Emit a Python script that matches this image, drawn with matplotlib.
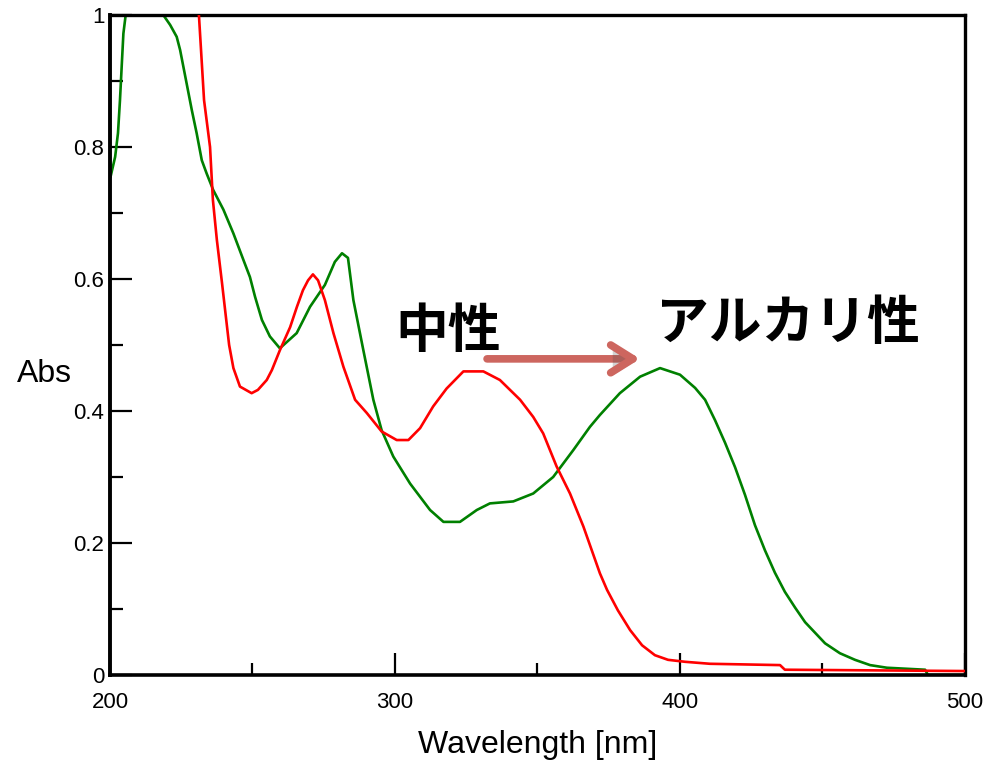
import matplotlib
matplotlib.use("Agg")
import matplotlib.pyplot as plt
from matplotlib import font_manager
import matplotlib.patheffects as pe

# ---- data ----
neutral_wl = [230.5, 231.2, 233.0, 235.1, 236.1, 237.5, 239.3, 240.6, 241.8, 243.3, 245.6, 249.7,
              251.9, 255.0, 256.8, 259.6, 263.2, 265.6, 267.7, 269.5, 271.2, 273.0, 275.4,
              278.4, 281.9, 286.0, 290.1, 295.3, 300.6, 304.7, 308.8, 313.4, 318.1, 324.0,
              331.0, 336.8, 343.9, 348.5, 352.0, 356.7, 361.4, 366.1, 371.9, 374.4, 378.2,
              382.5, 386.7, 391.2, 395.8, 401.8, 410.5, 435.1, 436.8, 500.0]
neutral_abs = [1.05, 1.0, 0.871, 0.800, 0.720, 0.659, 0.594, 0.545, 0.500, 0.465, 0.437, 0.427,
               0.432, 0.447, 0.462, 0.492, 0.527, 0.558, 0.583, 0.598, 0.607, 0.598, 0.568,
               0.518, 0.467, 0.417, 0.397, 0.369, 0.356, 0.356, 0.374, 0.407, 0.434, 0.460,
               0.460, 0.447, 0.417, 0.391, 0.366, 0.316, 0.275, 0.225, 0.154, 0.129, 0.098,
               0.068, 0.045, 0.030, 0.023, 0.020, 0.017, 0.015, 0.008, 0.006]

alkaline_wl = [200.2, 201.8, 202.8, 203.5, 204.1, 204.7, 205.5, 207.0, 212.3, 217.5, 218.7,
               221.1, 223.4, 224.6, 226.9, 228.7, 230.4, 232.2, 233.9, 236.2, 239.8, 243.3,
               246.8, 249.1, 250.9, 253.3, 256.1, 259.6, 265.5, 270.2, 275.4, 278.9, 281.4,
               283.5, 285.4, 288.9, 292.4, 295.3, 299.4, 305.3, 312.3, 317.0, 322.8, 328.7,
               333.3, 341.5, 348.5, 355.5, 362.6, 368.4, 371.9, 378.9, 386.0, 393.0, 400.0,
               405.3, 408.8, 412.3, 415.8, 419.3, 422.8, 426.3, 429.8, 433.3, 436.8, 440.4,
               443.9, 447.4, 450.9, 456.1, 461.4, 466.7, 472.6, 486.0, 487.0, 500.0]
alkaline_abs = [0.755, 0.785, 0.821, 0.871, 0.922, 0.972, 1.0, 1.04, 1.06, 1.02, 1.0,
                0.985, 0.967, 0.947, 0.896, 0.856, 0.821, 0.780, 0.760, 0.735, 0.705, 0.669,
                0.629, 0.603, 0.573, 0.538, 0.513, 0.495, 0.518, 0.558, 0.591, 0.626, 0.639,
                0.632, 0.568, 0.492, 0.417, 0.371, 0.331, 0.290, 0.250, 0.232, 0.232, 0.250,
                0.260, 0.263, 0.275, 0.300, 0.341, 0.376, 0.394, 0.427, 0.452, 0.465, 0.455,
                0.435, 0.417, 0.386, 0.352, 0.315, 0.273, 0.227, 0.189, 0.155, 0.126, 0.102,
                0.080, 0.064, 0.048, 0.033, 0.023, 0.015, 0.011, 0.008, 0.0, 0.0]

x_ticks = [200, 300, 400, 500]
x_ticklabels = ["200", "300", "400", "500"]
y_ticks = [0, 0.2, 0.4, 0.6, 0.8, 1.0]
y_ticklabels = ["0", "0.2", "0.4", "0.6", "0.8", "1"]
label_neutral = "中性"
label_alkaline = "アルカリ性"

# ---- fonts ----
avail = {f.name for f in font_manager.fontManager.ttflist}
has_narrow = "Liberation Sans Narrow" in avail
tick_family = ["Liberation Sans Narrow"] if has_narrow else ["Liberation Sans"]
tick_size = 18 if has_narrow else 16
cjk = ["Noto Sans CJK JP", "DejaVu Sans"]

fig = plt.figure(figsize=(9.9, 7.67), dpi=100)
ax = fig.add_axes([110 / 990, 1 - 675 / 767, 855 / 990, 660 / 767])

ax.plot(neutral_wl, neutral_abs, color="#ff0000", lw=1.9, zorder=3)
ax.plot(alkaline_wl, alkaline_abs, color="#008000", lw=1.9, zorder=2)

ax.set_xlim(200, 500)
ax.set_ylim(0, 1)

ax.set_xticks(x_ticks)
ax.set_xticklabels(x_ticklabels, family=tick_family, fontsize=tick_size)
ax.set_xticks([250, 350, 450], minor=True)
ax.set_yticks(y_ticks)
ax.set_yticklabels(y_ticklabels, family=tick_family, fontsize=tick_size)
ax.set_yticks([0.1, 0.3, 0.5, 0.7, 0.9], minor=True)

ax.tick_params(axis="both", which="major", direction="in", length=16, width=1.6, color="black")
ax.tick_params(axis="both", which="minor", direction="in", length=9, width=1.6, color="black")
ax.tick_params(axis="x", which="major", pad=12)
ax.tick_params(axis="y", which="major", pad=4)

for side, w in [("left", 2.8), ("bottom", 2.6), ("top", 2.4), ("right", 2.4)]:
    ax.spines[side].set_linewidth(w)
    ax.spines[side].set_color("black")

fig.text(538 / 990, 1 - 753 / 767, "Wavelength [nm]", family=["Liberation Sans"],
         fontsize=23, ha="center", va="baseline")
fig.text(17 / 990, 1 - 382 / 767, "Abs", family=["Liberation Sans"],
         fontsize=23, ha="left", va="baseline")

ax.text(300.0, 0.521, label_neutral, family=cjk, fontweight="bold", fontsize=38,
        ha="left", va="center", zorder=5)
ax.text(391.5, 0.533, label_alkaline, family=cjk, fontweight="bold", fontsize=38,
        ha="left", va="center", zorder=5)

ann = ax.annotate("", xy=(386.0, 0.479), xytext=(332.3, 0.479),
                  arrowprops=dict(arrowstyle="->,head_length=0.8,head_width=0.5",
                                  lw=5.5, color="#cd665f", shrinkA=0, shrinkB=0,
                                  mutation_scale=20), zorder=6)
ann.arrow_patch.set_path_effects([pe.SimplePatchShadow(offset=(1.5, -2), alpha=0.25),
                                  pe.Normal()])

fig.savefig("out.png", dpi=100, facecolor="white")
